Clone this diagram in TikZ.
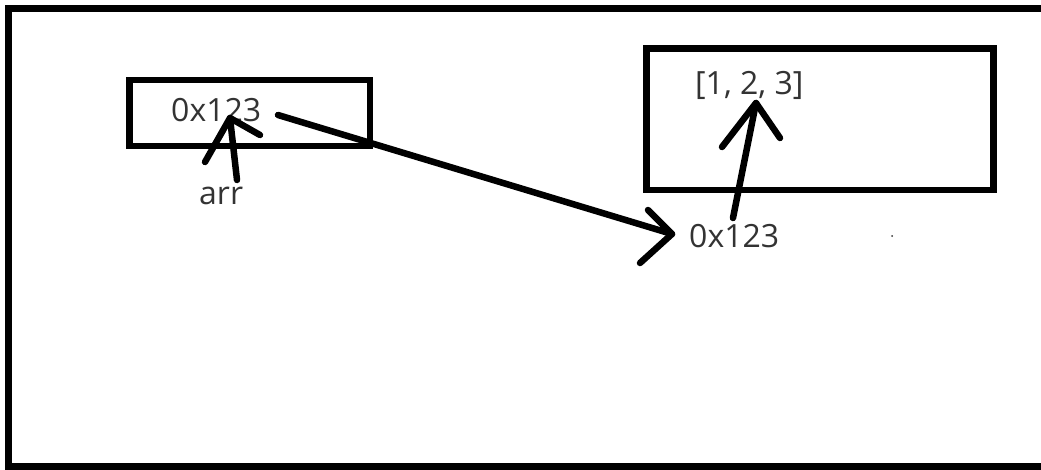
\documentclass[tikz,border=0pt]{standalone}
\usepackage{fontspec}
\setmainfont{Open Sans}
\definecolor{txt}{HTML}{333333}
\begin{document}
\begin{tikzpicture}[x=1pt,y=-1pt,
  frame/.style={line width=7pt},
  box/.style={draw=black, line width=6.5pt, rectangle, inner sep=0pt},
  lbl/.style={inner sep=0pt, anchor=base west, text=txt, font=\fontsize{32}{38}\selectfont},
  hand/.style={line width=6.5pt, line cap=round, line join=round}]
\useasboundingbox (0,0) rectangle (1041,469);
\fill[white] (0,0) rectangle (1041,469);
% outer frame (cropped at right)
\draw[frame] (1041,8.5) -- (8.5,8.5) -- (8.5,466.5) -- (1041,466.5);
% boxes
\node[box, minimum width=240.5pt, minimum height=66pt] (var) at (249.75,113) {};
\node[box, minimum width=347pt, minimum height=141.5pt] (heap) at (820,119.25) {};
% texts
\node[lbl] (addr1) at (171,121) {0x123};
\node[lbl] (arr) at (199,204) {arr};
\node[lbl] (list) at (695,94) {[1, 2, 3]};
\node[lbl] (addr2) at (689,247) {0x123};
% connector coordinates
\coordinate (a1s) at (237,180);
\coordinate (a1t) at (230,118);
\coordinate (a2s) at (278,115);
\coordinate (a2t) at (672,234);
\coordinate (a3s) at (733,218);
\coordinate (a3t) at (756,103);
% arrow arr -> 0x123
\draw[hand] (a1s) -- (a1t);
\draw[hand] (205,162) -- (a1t) -- (260,135);
% arrow 0x123 -> 0x123
\draw[hand] (a2s) -- (a2t);
\draw[hand] (648,210) -- (a2t) -- (640,263);
% arrow 0x123 -> [1,2,3]
\draw[hand] (a3s) -- (a3t);
\draw[hand] (722,147) -- (a3t) -- (780,138);
% stray dot
\fill[txt] (892,236) circle (1pt);
\end{tikzpicture}
\end{document}
